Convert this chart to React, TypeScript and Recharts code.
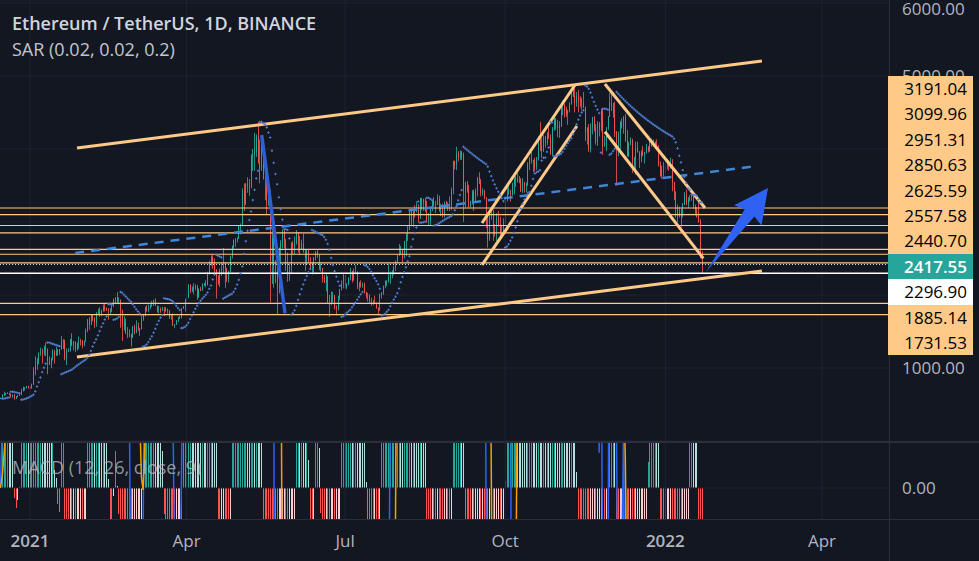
import { Bar, CartesianGrid, ComposedChart, Line, ReferenceLine, XAxis, YAxis } from "recharts"

const BG = "#131722"
const GRID = "#1f2330"
const BORDER = "#2a2e39"
const AXIS_TEXT = "#b2b5be"
const ORANGE = "#ffc987"
const UP = "#26a69a"
const DOWN = "#ef5350"
const SAR_BLUE = "#4f7fd0"
const FONT = '"Open Sans", Roboto, sans-serif'

// day 0 = 1 Jan 2021; first candle is 15 Dec 2020
const firstDay = -17
const firstOpen = 587

type Hlc = [number, number, number]

// [high, low, close] per day, the open is the previous close
const dec20: Hlc[] = [
  [595, 580, 590], [640, 587, 636], [676, 618, 643], [660, 625, 655], [667, 645, 658], [661, 625, 638], [649, 600, 609], [637, 590, 634], [638, 565, 584], [615, 575, 612],
  [627, 600, 626], [647, 620, 635], [716, 628, 684], [745, 680, 731], [738, 691, 731], [754, 721, 752], [756, 716, 737],
]
const jan21: Hlc[] = [
  [750, 714, 730], [787, 716, 775], [1011, 768, 978], [1160, 900, 1041], [1135, 975, 1100], [1212, 1050, 1208], [1279, 1167, 1225], [1264, 1060, 1224], [1305, 1172, 1282], [1348, 1160, 1263],
  [1265, 915, 1090], [1160, 1040, 1045], [1140, 997, 1130], [1257, 1100, 1230], [1247, 1060, 1170], [1290, 1167, 1232], [1260, 1170, 1230], [1260, 1179, 1257], [1440, 1250, 1377], [1395, 1260, 1383],
  [1388, 1106, 1121], [1270, 1040, 1233], [1270, 1218, 1234], [1400, 1225, 1391], [1475, 1300, 1324], [1370, 1242, 1357], [1365, 1220, 1253], [1347, 1240, 1331], [1433, 1260, 1379], [1400, 1308, 1378], [1380, 1270, 1314],
]
const feb21: Hlc[] = [
  [1375, 1298, 1370], [1540, 1359, 1512], [1672, 1490, 1664], [1695, 1525, 1594], [1737, 1588, 1720], [1735, 1640, 1678], [1697, 1550, 1614], [1766, 1566, 1746], [1812, 1730, 1768], [1830, 1700, 1743],
  [1800, 1713, 1785], [1872, 1771, 1842], [1876, 1775, 1812], [1830, 1780, 1800], [1822, 1660, 1780], [1820, 1740, 1781], [1860, 1765, 1846], [1952, 1835, 1937], [1970, 1880, 1960], [2040, 1880, 1919],
  [1970, 1874, 1935], [1938, 1550, 1780], [1800, 1371, 1570], [1710, 1511, 1626], [1677, 1465, 1475], [1560, 1408, 1446], [1530, 1420, 1459], [1470, 1293, 1417],
]
const mar21: Hlc[] = [
  [1573, 1410, 1565], [1594, 1460, 1485], [1654, 1476, 1574], [1622, 1509, 1542], [1546, 1440, 1530], [1702, 1535, 1662], [1730, 1645, 1724], [1840, 1705, 1834], [1860, 1770, 1794], [1870, 1768, 1824],
  [1870, 1806, 1856], [1920, 1840, 1857], [1936, 1850, 1920], [1954, 1850, 1854], [1837, 1760, 1790], [1848, 1747, 1806], [1830, 1756, 1780], [1838, 1783, 1800], [1835, 1710, 1780], [1835, 1770, 1811],
  [1810, 1745, 1787], [1791, 1673, 1682], [1733, 1666, 1671], [1748, 1575, 1585], [1602, 1545, 1596], [1655, 1590, 1652], [1702, 1630, 1682], [1715, 1672, 1690], [1820, 1680, 1816], [1850, 1810, 1845], [1950, 1775, 1918],
]
const apr21: Hlc[] = [
  [1990, 1900, 1971], [2150, 1953, 2134], [2145, 2025, 2075], [2116, 2040, 2080], [2160, 2010, 2105], [2145, 2065, 2118], [2139, 1932, 1968], [2090, 1961, 2080], [2110, 2050, 2070], [2160, 2053, 2140],
  [2165, 2125, 2152], [2200, 2106, 2136], [2316, 2130, 2300], [2469, 2280, 2430], [2540, 2400, 2515], [2550, 2360, 2430], [2500, 2300, 2340], [2355, 1950, 2240], [2275, 2137, 2160], [2360, 2108, 2330],
  [2450, 2260, 2365], [2642, 2290, 2400], [2440, 2100, 2360], [2370, 2180, 2215], [2330, 2170, 2320], [2540, 2310, 2533], [2680, 2500, 2660], [2760, 2633, 2745], [2780, 2660, 2755], [2790, 2720, 2772],
]
const may21: Hlc[] = [
  [2950, 2770, 2945], [2980, 2830, 2950], [3460, 2940, 3430], [3530, 3150, 3252], [3530, 3230, 3522], [3612, 3400, 3490], [3590, 3360, 3480], [3925, 3460, 3900], [4000, 3700, 3930], [4220, 3700, 3955],
  [4200, 3890, 4170], [4370, 3800, 3820], [4130, 3530, 3730], [4150, 3700, 4070], [4130, 3580, 3600], [3740, 3300, 3580], [3600, 3100, 3260], [3560, 3220, 3380], [3440, 1900, 2460], [2970, 2150, 2780],
  [2940, 2100, 2430], [2480, 2160, 2300], [2380, 1730, 2100], [2650, 2020, 2640], [2750, 2390, 2710], [2900, 2640, 2880], [2890, 2640, 2740], [2770, 2330, 2420], [2580, 2180, 2280], [2430, 2190, 2390], [2720, 2300, 2710],
]
const jun21: Hlc[] = [
  [2740, 2560, 2630], [2800, 2560, 2710], [2890, 2690, 2860], [2860, 2580, 2690], [2810, 2550, 2630], [2760, 2620, 2710], [2840, 2580, 2590], [2620, 2330, 2510], [2630, 2420, 2610], [2620, 2440, 2470],
  [2520, 2360, 2370], [2450, 2280, 2370], [2520, 2310, 2510], [2600, 2470, 2590], [2620, 2510, 2550], [2560, 2340, 2370], [2430, 2320, 2370], [2370, 2170, 2230], [2270, 2160, 2170], [2290, 2050, 2250],
  [2260, 1880, 1890], [2000, 1700, 1870], [2050, 1860, 1970], [2040, 1900, 1990], [2000, 1800, 1830], [1860, 1720, 1820], [1990, 1790, 1980], [2080, 1930, 2080], [2200, 2060, 2160], [2290, 2090, 2270],
]
const jul21: Hlc[] = [
  [2270, 2090, 2110], [2160, 2080, 2150], [2240, 2130, 2230], [2370, 2200, 2320], [2330, 2170, 2200], [2360, 2210, 2320], [2410, 2310, 2320], [2320, 2080, 2110], [2180, 2050, 2150], [2200, 2100, 2140],
  [2170, 2100, 2140], [2170, 2020, 2040], [2040, 1950, 1990], [2030, 1910, 1990], [2010, 1880, 1910], [1960, 1850, 1880], [1930, 1860, 1900], [1990, 1880, 1890], [1900, 1810, 1820], [1830, 1720, 1790],
  [2020, 1780, 2000], [2040, 1950, 2030], [2130, 2000, 2120], [2200, 2090, 2190], [2200, 2120, 2190], [2430, 2170, 2230], [2320, 2150, 2300], [2340, 2230, 2300], [2400, 2270, 2380], [2470, 2330, 2460], [2550, 2440, 2540],
]
const aug21: Hlc[] = [
  [2700, 2540, 2560], [2670, 2550, 2610], [2630, 2450, 2510], [2740, 2500, 2730], [2840, 2530, 2830], [2950, 2740, 2890], [3180, 2890, 3160], [3180, 2940, 3010], [3180, 2930, 3160], [3230, 3060, 3140],
  [3280, 3130, 3170], [3240, 2990, 3050], [3330, 3040, 3320], [3330, 3160, 3270], [3320, 3150, 3310], [3330, 3140, 3150], [3290, 2990, 3010], [3120, 2950, 3010], [3190, 2960, 3180], [3300, 3150, 3290],
  [3340, 3210, 3230], [3290, 3120, 3240], [3380, 3230, 3320], [3360, 3140, 3170], [3250, 3080, 3230], [3250, 3060, 3110], [3280, 3060, 3270], [3290, 3200, 3240], [3270, 3150, 3220], [3350, 3150, 3220], [3470, 3160, 3430],
]
const sep21: Hlc[] = [
  [3840, 3380, 3830], [3840, 3720, 3790], [4030, 3710, 3940], [3970, 3830, 3890], [3980, 3850, 3950], [3970, 3850, 3930], [3950, 3000, 3430], [3550, 3200, 3500], [3560, 3400, 3430], [3510, 3200, 3210],
  [3290, 3200, 3270], [3440, 3240, 3410], [3440, 3150, 3290], [3460, 3270, 3430], [3610, 3350, 3610], [3680, 3520, 3570], [3590, 3350, 3400], [3460, 3360, 3430], [3440, 3310, 3330], [3340, 2920, 2970],
  [3100, 2650, 2760], [3100, 2740, 3080], [3170, 3030, 3150], [3170, 2740, 2930], [2970, 2800, 2920], [3120, 2740, 3060], [3150, 2960, 2940], [3070, 2800, 2810], [2960, 2790, 2850], [3050, 2830, 3000],
]
const oct21: Hlc[] = [
  [3330, 2970, 3310], [3470, 3280, 3390], [3490, 3370, 3420], [3440, 3280, 3380], [3540, 3360, 3520], [3610, 3380, 3580], [3630, 3480, 3590], [3670, 3540, 3560], [3630, 3530, 3580], [3600, 3410, 3420],
  [3600, 3400, 3540], [3550, 3400, 3490], [3540, 3410, 3500], [3820, 3500, 3790], [3890, 3710, 3860], [3960, 3800, 3830], [3850, 3680, 3850], [3880, 3690, 3750], [3890, 3710, 3870], [4180, 3840, 4160],
  [4370, 3970, 4050], [4160, 3880, 3970], [4190, 3960, 4170], [4180, 4020, 4080], [4230, 4050, 4220], [4300, 4150, 4140], [4200, 3920, 3930], [4300, 3900, 4280], [4460, 4250, 4420], [4420, 4260, 4320], [4400, 4160, 4290],
]
const nov21: Hlc[] = [
  [4380, 4150, 4320], [4600, 4300, 4590], [4660, 4460, 4610], [4620, 4430, 4520], [4580, 4440, 4480], [4540, 4330, 4520], [4640, 4500, 4610], [4830, 4610, 4810], [4840, 4710, 4730], [4870, 4500, 4630],
  [4780, 4580, 4720], [4810, 4500, 4670], [4720, 4570, 4650], [4700, 4530, 4630], [4780, 4560, 4570], [4580, 4110, 4230], [4300, 4060, 4280], [4340, 3960, 4000], [4350, 3950, 4290], [4440, 4200, 4430],
  [4450, 4240, 4270], [4340, 4060, 4090], [4380, 4040, 4340], [4370, 4170, 4270], [4550, 4240, 4520], [4550, 3920, 4040], [4180, 4030, 4090], [4300, 3970, 4300], [4450, 4260, 4440], [4770, 4440, 4630],
]
const dec21: Hlc[] = [
  [4780, 4520, 4590], [4630, 4430, 4520], [4650, 4160, 4240], [4240, 3500, 4100], [4240, 3900, 4200], [4380, 3950, 4360], [4420, 4280, 4310], [4450, 4210, 4440], [4480, 4100, 4110], [4260, 3900, 3900],
  [4100, 3890, 4080], [4160, 4050, 4130], [4140, 3670, 3780], [3890, 3690, 3860], [4100, 3650, 4020], [4100, 3950, 3960], [3970, 3740, 3880], [3980, 3820, 3950], [4040, 3900, 3920], [3960, 3800, 3940],
  [4070, 3940, 4020], [4040, 3950, 3980], [4120, 3960, 4110], [4140, 4030, 4040], [4130, 4030, 4100], [4100, 4000, 4070], [4130, 4030, 4040], [4050, 3760, 3790], [3830, 3620, 3630], [3770, 3590, 3710], [3820, 3620, 3680],
]
const jan22: Hlc[] = [
  [3780, 3680, 3770], [3860, 3720, 3830], [3850, 3700, 3760], [3880, 3730, 3790], [3860, 3420, 3540], [3550, 3300, 3410], [3420, 3060, 3200], [3240, 3000, 3080], [3210, 3060, 3150], [3180, 2930, 3080],
  [3260, 3060, 3240], [3410, 3230, 3370], [3440, 3230, 3250], [3340, 3190, 3310], [3370, 3280, 3330], [3370, 3290, 3350], [3360, 3180, 3210], [3240, 3090, 3160], [3200, 3060, 3080], [3270, 2990, 3000],
  [3040, 2500, 2560], [2600, 2300, 2417.55],
]

const months = [dec20, jan21, feb21, mar21, apr21, may21, jun21, jul21, aug21, sep21, oct21, nov21, dec21, jan22]

const timeTicks = [0, 90, 181, 273, 365, 455]
const timeLabels = ["2021", "Apr", "Jul", "Oct", "2022", "Apr"]
const priceTicks = [1000, 2000, 3000, 4000, 5000, 6000]
const shownPriceTicks = [1000, 5000, 6000] // the rest sit under the level badges

// horizontal levels drawn on the chart
const levels = [3191.04, 3099.96, 2951.31, 2850.63, 2625.59, 2557.58, 2440.7, 1885.14, 1731.53]
const lastPrice = 2417.55
const whiteLevel = 2296.9
const axisBadges = [3191.04, 3099.96, 2951.31, 2850.63, 2625.59, 2557.58, 2440.7, 2417.55, 2296.9, 1885.14, 1731.53]

// drawings as [day, price] end points
const channelTop = [[27, 4013], [420.5, 5205]]
const channelBottom = [[27, 1150], [420.5, 2328]]
const midDashed = [[26, 2575], [418, 3767]]
const riseOuter = [[259.7, 2986], [313.1, 4876]]
const riseInner = [[259.7, 2411], [314.2, 4314]]
const fallOuter = [[330.3, 4890], [387.8, 3191]]
const fallInner = [[330.3, 4236], [386.8, 2502]]
const mayDrop = [[133.1, 4191], [146.5, 1749]]
const arrow = [[388.3, 2315], [424, 3465]]

const xDomain = [-17.23, 493.5]

type Row = { d: number; o: number; h: number; l: number; c: number; lo: number; hi: number; sar: number | null }

const candles: Row[] = []
{
  let prev = firstOpen
  let d = firstDay
  for (const m of months) {
    for (const [h, l, c] of m) {
      candles.push({ d, o: prev, h, l, c, lo: Math.min(l, prev, c), hi: Math.max(h, prev, c), sar: null })
      prev = c
      d++
    }
  }
}

// Parabolic SAR (0.02, 0.02, 0.2)
{
  const step = 0.02
  const maxAf = 0.2
  let up = candles[1].c >= candles[0].c
  let ep = up ? candles[0].hi : candles[0].lo
  let sar = up ? candles[0].lo : candles[0].hi
  let af = step
  for (let i = 1; i < candles.length; i++) {
    const r = candles[i]
    const p1 = candles[i - 1]
    const p2 = candles[Math.max(0, i - 2)]
    sar = sar + af * (ep - sar)
    if (up) {
      sar = Math.min(sar, p1.lo, p2.lo)
      if (r.lo < sar) {
        up = false; sar = ep; ep = r.lo; af = step
      } else if (r.hi > ep) {
        ep = r.hi; af = Math.min(af + step, maxAf)
      }
    } else {
      sar = Math.max(sar, p1.hi, p2.hi)
      if (r.hi > sar) {
        up = true; sar = ep; ep = r.hi; af = step
      } else if (r.lo < ep) {
        ep = r.lo; af = Math.min(af + step, maxAf)
      }
    }
    r.sar = sar
  }
}

// MACD (12, 26, close, 9)
const ema = (vals: number[], n: number) => {
  const k = 2 / (n + 1)
  let e = vals[0]
  return vals.map((v) => (e = v * k + e * (1 - k)))
}
const closes = candles.map((r) => r.c)
const ema12 = ema(closes, 12)
const ema26 = ema(closes, 26)
const macdLine = ema12.map((v, i) => v - ema26[i])
const signalLine = ema(macdLine, 9)
const macdRows = candles.map((r, i) => {
  const hist = macdLine[i] - signalLine[i]
  const prev = i > 0 ? macdLine[i - 1] - signalLine[i - 1] : hist
  const color = hist >= 0 ? (hist > prev ? "#26a69a" : "#b2dfdb") : hist > prev ? "#ffcdd2" : "#ff5252"
  return { d: r.d, hist, macd: macdLine[i], signal: signalLine[i], color }
})

const Candle = (props: any) => {
  const { x, y, width, height, payload } = props
  if (x == null || !payload) return <g />
  const top = Math.min(y, y + height)
  const span = Math.abs(height)
  const range = payload.hi - payload.lo || 1
  const py = (v: number) => top + ((payload.hi - v) / range) * span
  const cx = Math.round(x + width / 2) + 0.5
  const color = payload.c >= payload.o ? UP : DOWN
  const b1 = py(Math.max(payload.o, payload.c))
  const b2 = py(Math.min(payload.o, payload.c))
  return (
    <g>
      <line x1={cx} x2={cx} y1={top} y2={top + span} stroke={color} strokeOpacity={0.85} />
      <rect x={cx - 0.5} y={b1} width={1} height={Math.max(1, b2 - b1)} fill={color} />
    </g>
  )
}

const SarDot = (props: any) => {
  const { cx, cy, index } = props
  if (cx == null || cy == null || isNaN(cy)) return <g key={index} />
  return <path key={index} d={`M${cx - 1.2},${cy}H${cx + 1.2}M${cx},${cy - 1.2}V${cy + 1.2}`} stroke={SAR_BLUE} strokeWidth={1} />
}

const HistBar = (props: any) => {
  const { x, y, width, height, payload } = props
  if (x == null || !payload) return <g />
  const top = Math.min(y, y + height)
  return <rect x={Math.round(x + width / 2)} y={top} width={1} height={Math.abs(height)} fill={payload.color} shapeRendering="crispEdges" />
}

const Arrow = (props: any) => {
  const { x1, y1, x2, y2 } = props
  const dx = x2 - x1
  const dy = y2 - y1
  const len = Math.hypot(dx, dy)
  const ux = dx / len
  const uy = dy / len
  const nx = -uy
  const ny = ux
  const bx = x2 - ux * 31
  const by = y2 - uy * 31
  const pts = [
    [x1, y1],
    [bx + nx * 6, by + ny * 6],
    [bx + nx * 17 - ux * 3, by + ny * 17 - uy * 3],
    [x2, y2],
    [bx - nx * 17 - ux * 3, by - ny * 17 - uy * 3],
    [bx - nx * 6, by - ny * 6],
  ]
  return <polygon points={pts.map((p) => p.join(",")).join(" ")} fill="#2f62f2" />
}

const PriceTick = (props: any) => {
  const { x, y, payload } = props
  if (!shownPriceTicks.includes(payload.value)) return <g />
  return (
    <text x={x} y={y} dy={6} textAnchor="start" fill={AXIS_TEXT} fontSize={17} fontFamily={FONT}>
      {Number(payload.value).toFixed(2)}
    </text>
  )
}

const TimeTick = (props: any) => {
  const { x, y, payload } = props
  const label = timeLabels[timeTicks.indexOf(payload.value)]
  const bold = /^\d{4}$/.test(label)
  return (
    <text x={x} y={y} dy={20} textAnchor="middle" fill={AXIS_TEXT} fontSize={17} fontWeight={bold ? 600 : 400} fontFamily={FONT}>
      {label}
    </text>
  )
}

const seg = (pts: number[][]) => pts.map(([x, y]) => ({ x, y }))

export default function App() {
  return (
    <div style={{ position: "fixed", left: 0, top: 0, width: 979, height: 561, background: BG, overflow: "hidden", fontFamily: FONT }}>
      <div style={{ position: "absolute", left: 0, top: 0 }}>
        <ComposedChart width={979} height={441} data={candles} margin={{ top: 0, right: 0, bottom: 0, left: 0 }}>
          <CartesianGrid stroke={GRID} vertical={false} />
          <XAxis dataKey="d" type="number" domain={xDomain} hide allowDataOverflow />
          <YAxis
            orientation="right"
            width={90}
            domain={[0, 6040]}
            ticks={priceTicks}
            allowDataOverflow
            axisLine={false}
            tickLine={false}
            tickMargin={7}
            tick={<PriceTick />}
          />
          {timeTicks.map((t) => (
            <ReferenceLine key={t} x={t} stroke={GRID} />
          ))}
          <Bar dataKey={(p: Row) => [p.lo, p.hi]} shape={Candle} barSize={1} isAnimationActive={false} />
          <Line dataKey="sar" stroke="none" dot={SarDot} activeDot={false} isAnimationActive={false} />
          {levels.map((v) => (
            <ReferenceLine key={v} y={v} stroke={ORANGE} strokeWidth={1.2} />
          ))}
          <ReferenceLine y={whiteLevel} stroke="#ffffff" strokeWidth={1.5} />
          <ReferenceLine y={lastPrice} stroke="#cfe3e1" strokeDasharray="1 2" />
          <ReferenceLine segment={seg(midDashed)} stroke="#3f85d8" strokeWidth={2.5} strokeDasharray="9 7" />
          {[channelTop, channelBottom, riseOuter, riseInner, fallOuter, fallInner].map((s, i) => (
            <ReferenceLine key={i} segment={seg(s)} stroke={ORANGE} strokeWidth={3} />
          ))}
          <ReferenceLine segment={seg(mayDrop)} stroke="#2f5fd6" strokeWidth={3.5} />
          <ReferenceLine segment={seg(arrow)} shape={Arrow} />
        </ComposedChart>
      </div>

      <div style={{ position: "absolute", left: 0, top: 443 }}>
        <ComposedChart width={979} height={118} data={macdRows} margin={{ top: 0, right: 0, bottom: 0, left: 0 }}>
          <XAxis
            dataKey="d"
            type="number"
            domain={xDomain}
            ticks={timeTicks}
            interval={0}
            height={42}
            allowDataOverflow
            axisLine={false}
            tickLine={false}
            tick={<TimeTick />}
          />
          <YAxis
            orientation="right"
            width={90}
            domain={[-2, 2.9]}
            ticks={[0]}
            allowDataOverflow
            axisLine={false}
            tickLine={false}
            tickMargin={7}
            tick={{ fill: AXIS_TEXT, fontSize: 17, fontFamily: FONT }}
            tickFormatter={(v) => Number(v).toFixed(2)}
          />
          {timeTicks.map((t) => (
            <ReferenceLine key={t} x={t} stroke={GRID} />
          ))}
          <ReferenceLine y={0} stroke={GRID} />
          <Bar dataKey="hist" shape={HistBar} barSize={1} isAnimationActive={false} />
          <Line dataKey="macd" stroke="#2962ff" strokeWidth={1.5} dot={false} activeDot={false} isAnimationActive={false} />
          <Line dataKey="signal" stroke="#f5a000" strokeWidth={1.5} dot={false} activeDot={false} isAnimationActive={false} />
        </ComposedChart>
      </div>

      <div style={{ position: "absolute", left: 0, top: 441, width: 979, height: 2, background: BORDER }} />
      <div style={{ position: "absolute", left: 0, top: 519, width: 979, height: 1, background: BORDER }} />
      <div style={{ position: "absolute", left: 889, top: 0, width: 1, height: 561, background: BORDER }} />

      <div style={{ position: "absolute", left: 12, top: 11, color: "#d1d4dc", fontSize: 18, fontWeight: 600, lineHeight: "24px" }}>
        Ethereum / TetherUS, 1D, BINANCE
      </div>
      <div style={{ position: "absolute", left: 12, top: 37, color: "#c3c6ce", fontSize: 18, lineHeight: "24px" }}>
        SAR (0.02, 0.02, 0.2)
      </div>
      <div style={{ position: "absolute", left: 12, top: 455, color: "rgba(178,181,190,0.8)", fontSize: 18, lineHeight: "24px" }}>
        MACD (12, 26, close, 9)
      </div>

      {axisBadges.map((v, i) => {
        const bg = v === lastPrice ? UP : v === whiteLevel ? "#ffffff" : ORANGE
        const fg = v === lastPrice ? "#ffffff" : "#000000"
        return (
          <div
            key={v}
            style={{
              position: "absolute",
              left: 888,
              top: 76 + i * 25.4,
              width: 85,
              height: 25.4,
              background: bg,
              color: fg,
              fontSize: 17,
              lineHeight: "25px",
              textAlign: "right",
              paddingRight: 6,
              boxSizing: "border-box",
              fontWeight: v === lastPrice ? 600 : 400,
            }}
          >
            {v.toFixed(2)}
          </div>
        )
      })}
    </div>
  )
}
